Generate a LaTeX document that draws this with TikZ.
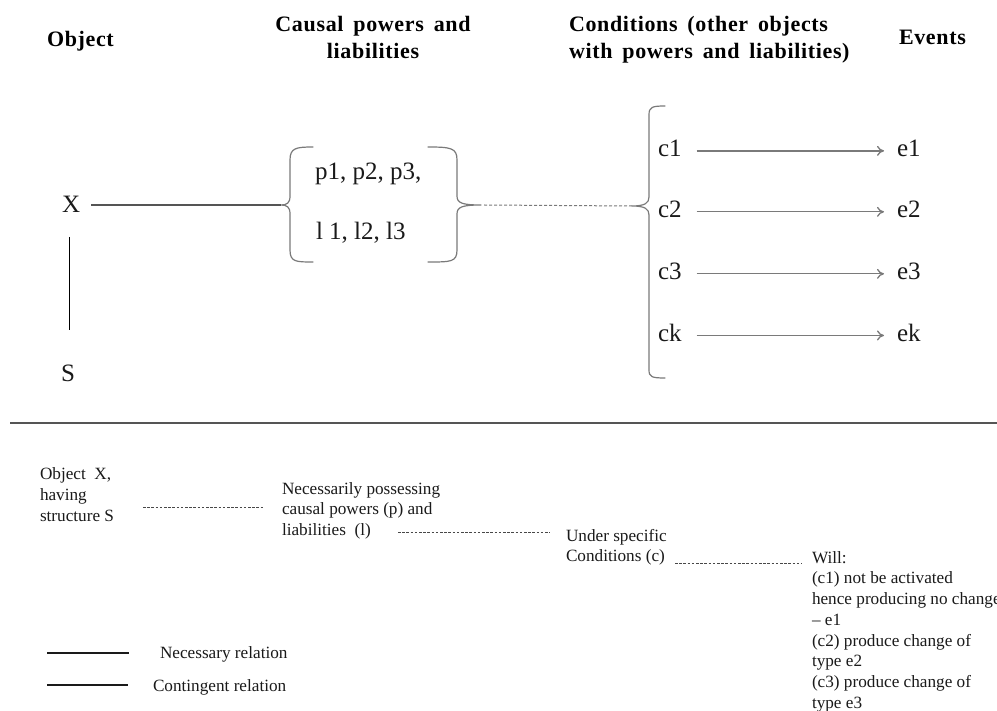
\documentclass[tikz,border=0pt]{standalone}
\usepackage{fontspec}
\setmainfont{Liberation Serif}
\newfontfamily\headfam{Liberation Serif}[WordSpace=1.6, LetterSpace=3]
\usetikzlibrary{arrows.meta}

\newcommand{\headfont}{\headfam\fontsize{22}{27}\selectfont\bfseries}
\newcommand{\midfont}{\fontsize{25}{28}\selectfont}
\newcommand{\notefont}{\fontsize{17.2}{20.8}\selectfont}
\newcommand{\lines}[2][l]{\begin{tabular}[t]{@{}#1@{}}#2\end{tabular}}

\definecolor{ink}{HTML}{1A1A1A}
\definecolor{wire}{HTML}{7A7A7A}
\definecolor{rule}{HTML}{555555}

\tikzset{
  lbl/.style={inner sep=0pt, outer sep=0pt, text=ink, anchor=base west},
  head/.style={inner sep=0pt, outer sep=0pt, text=black, font=\headfont},
  mid/.style={lbl, font=\midfont},
  note/.style={lbl, font=\notefont},
  bracepath/.style={draw=wire, line width=1.2pt, line cap=round, line join=round},
  solidlink/.style={draw=ink!85, line width=1.6pt},
  dotlink/.style={draw=ink!80, line width=0.9pt, dash pattern=on 2.6pt off 1.6pt},
  condlink/.style={draw=wire, line width=1pt, dash pattern=on 3pt off 2pt},
  arr/.style={draw=wire, line width=1.3pt, -{To[length=7pt,width=10pt]}},
}

\begin{document}
\begin{tikzpicture}[x=1pt, y=-1pt]
\useasboundingbox (0,0) rectangle (997,711);
\clip (0,0) rectangle (997,711);
\fill[white] (0,0) rectangle (997,711);

% column headings
\node[head, anchor=base west] (hobj) at (47,47) {Object};
\node[head, anchor=base] (hpow) at (373,32) {\lines[c]{Causal powers and\\ liabilities}};
\node[head, anchor=base west] (hcond) at (569,32) {\lines{Conditions (other objects\\ with powers and liabilities)}};
\node[head, anchor=base west] (hev) at (899,45) {Events};

% object and its structure
\node[mid] (X) at (62,213) {X};
\node[mid] (S) at (61,382) {S};
\coordinate (Xdown) at (69.5,237);
\coordinate (Sup) at (69.5,330);
\draw[draw=black, line width=1.4pt] (Xdown) -- (Sup);

% powers and liabilities in braces
\node[mid] (pw) at (315,180) {p1, p2, p3,};
\node[mid] (lb) at (316,240) {l 1, l2, l3};
\coordinate (lbtip) at (281,205);
\coordinate (rbtip) at (481,205);
\draw[bracepath] (313,147) .. controls (296,147) and (290,148) .. (290,160) -- (290,196)
  .. controls (290,203) and (287,205) .. (lbtip)
  .. controls (287,205) and (290,207) .. (290,214) -- (290,250)
  .. controls (290,262) and (296,262) .. (313,262);
\draw[bracepath] (428,147) .. controls (451,147) and (457,148) .. (457,160) -- (457,196)
  .. controls (457,203) and (462,205) .. (rbtip)
  .. controls (462,205) and (457,207) .. (457,214) -- (457,250)
  .. controls (457,262) and (451,262) .. (428,262);
\draw[solidlink, draw=rule] (91,205) -- (lbtip);

% conditions brace
\coordinate (cbtip) at (632,206);
\draw[bracepath] (665,106) .. controls (652,106) and (649,107) .. (649,115) -- (649,197)
  .. controls (649,203) and (645,206) .. (cbtip)
  .. controls (645,206) and (649,209) .. (649,215) -- (649,370)
  .. controls (649,377) and (652,378) .. (665,378);
\draw[condlink] (rbtip) ++(3,0) -- (cbtip);

% conditions and the events they give rise to
\node[mid] (c1) at (658,157) {c1};
\node[mid] (c2) at (658,218) {c2};
\node[mid] (c3) at (658,280) {c3};
\node[mid] (ck) at (658,342) {ck};
\node[mid] (e1) at (897,157) {e1};
\node[mid] (e2) at (897,218) {e2};
\node[mid] (e3) at (897,280) {e3};
\node[mid] (ek) at (897,342) {ek};
\foreach \c/\e in {c1/e1, c2/e2, c3/e3, ck/ek}
  \draw[arr] ([xshift=15pt, yshift=-2pt]\c.east) -- ([xshift=-13pt, yshift=-2pt]\e.west);

% separator
\coordinate (sepL) at (10,423);
\coordinate (sepR) at (997,423);
\draw[draw=rule, line width=2.4pt] (sepL) -- (sepR);

% reading of the scheme
\node[note] (n1) at (40,480) {\lines{Object\ \ X,\\ having\\ structure S}};
\node[note] (n2) at (282,494) {\lines{Necessarily possessing\\ causal powers (p) and\\ liabilities\ \ (l)}};
\node[note] (n3) at (566,541) {\lines{Under specific\\ Conditions (c)}};
\node[note] (n4) at (812,563) {\lines{Will:\\ (c1) not be activated\\ hence producing no change\\ -- e1\\ (c2) produce change of\\ type e2\\ (c3) produce change of\\ type e3}};
\coordinate (d1a) at (143,507); \coordinate (d1b) at (263,507);
\coordinate (d2a) at (398,532); \coordinate (d2b) at (550,532);
\coordinate (d3a) at (675,563); \coordinate (d3b) at (802,563);
\draw[dotlink] (d1a) -- (d1b);
\draw[dotlink] (d2a) -- (d2b);
\draw[dotlink] (d3a) -- (d3b);

% legend
\coordinate (k1a) at (47,653); \coordinate (k1b) at (129,653);
\coordinate (k2a) at (47,685); \coordinate (k2b) at (128,685);
\draw[draw=ink, line width=1.4pt] (k1a) -- (k1b);
\draw[draw=ink, line width=1.4pt] (k2a) -- (k2b);
\node[note] (kn) at (160,658) {Necessary relation};
\node[note] (kc) at (153,691) {Contingent relation};
\end{tikzpicture}
\end{document}
